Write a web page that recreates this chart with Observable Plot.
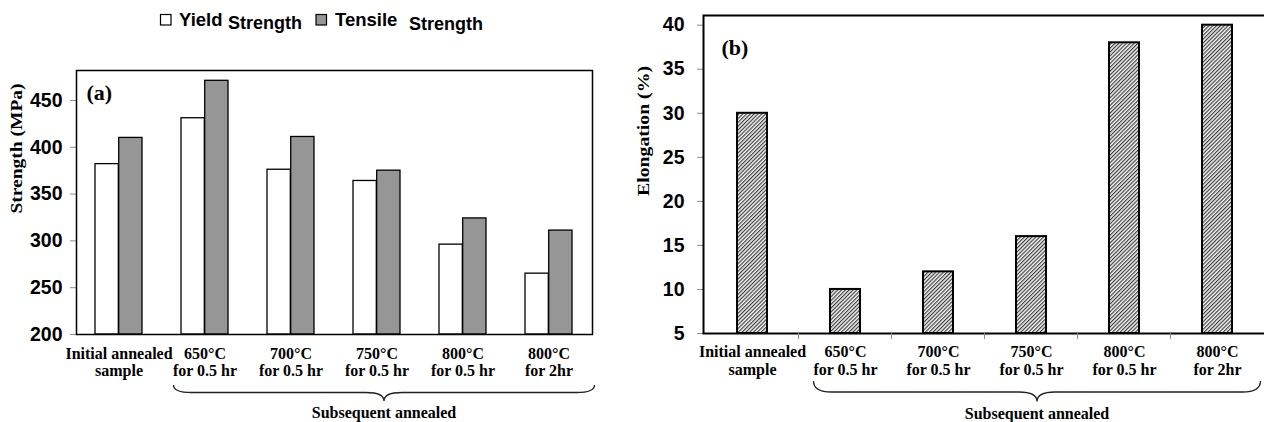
<!DOCTYPE html>
<html><head><meta charset="utf-8">
<script src="https://cdn.jsdelivr.net/npm/d3@7"></script>
<script src="https://cdn.jsdelivr.net/npm/@observablehq/plot@0.6"></script>
<style>
body{margin:0;background:#fff;}
#wrap{position:relative;width:1264px;height:422px;overflow:hidden;background:#fff;}
#wrap svg{position:absolute;top:0;}
</style></head><body><div id="wrap"></div>
<script>
const categories = ["Initial annealed\nsample","650°C\nfor 0.5 hr","700°C\nfor 0.5 hr","750°C\nfor 0.5 hr","800°C\nfor 0.5 hr","800°C\nfor 2hr"];
const yieldStrength = [382, 431, 376, 364, 296, 265];
const tensileStrength = [410, 471, 411, 375, 324, 311];
const elongation = [30, 10, 12, 16, 38, 40];
const strengthTicks = [200, 250, 300, 350, 400, 450];
const elongationTicks = [5, 10, 15, 20, 25, 30, 35, 40];
const strengthDomain = [200, 482];
const elongationDomain = [5, 41.1];
const legendNames = ["Yield", "Tensile"];
const legendSuffix = "Strength";
const braceLabel = "Subsequent annealed";
const panelLabels = ["(a)", "(b)"];
const axisTitles = ["Strength (MPa)", "Elongation (%)"];

const serif = "'Liberation Serif','Times New Roman',serif";
const sans = "'Liberation Sans',Arial,sans-serif";
const wrap = document.getElementById("wrap");

// ---------- Panel (a) ----------
const A = {width: 600, height: 422, ml: 76, mr: 8, mt: 70, mb: 88, pad: 0.449};
const stepA = (A.width - A.ml - A.mr) / categories.length;
const bwA = stepA * (1 - A.pad);
const rowsA = categories.map((c, i) => ({cat: c, ys: yieldStrength[i], ts: tensileStrength[i]}));
const plotA = Plot.plot({
  width: A.width, height: A.height,
  marginLeft: A.ml, marginRight: A.mr, marginTop: A.mt, marginBottom: A.mb,
  x: {domain: categories, paddingInner: A.pad, paddingOuter: A.pad / 2},
  y: {domain: strengthDomain},
  marks: [
    Plot.barY(rowsA, {x: "cat", y1: () => strengthDomain[0], y2: "ys", insetRight: bwA / 2, fill: "white", stroke: "black", strokeWidth: 1.3}),
    Plot.barY(rowsA, {x: "cat", y1: () => strengthDomain[0], y2: "ts", insetLeft: bwA / 2, fill: "#969696", stroke: "black", strokeWidth: 1.3}),
    Plot.axisY({ticks: strengthTicks, tickSize: 6, tickPadding: 8, fontSize: 19.5, fontWeight: "bold", fontFamily: sans, label: null, color: "black"}),
    Plot.axisX({tickSize: 0, tickPadding: 12, fontSize: 16, fontWeight: "bold", fontFamily: serif, lineHeight: 1.08, label: null, color: "black"}),
    Plot.frame({stroke: "black", strokeWidth: 1.5}),
    Plot.text([panelLabels[0]], {frameAnchor: "top-left", dx: 10, dy: 14, fontSize: 22, fontWeight: "bold", fontFamily: serif, fill: "black"}),
    Plot.text([axisTitles[0]], {frameAnchor: "left", rotate: -90, dx: -59.5, dy: 11, fontSize: 16, fontWeight: "bold", fontFamily: serif, fill: "black"})
  ]
});
plotA.style.left = "0px";
wrap.appendChild(plotA);

// ---------- Panel (b) ----------
const B = {width: 664, height: 422, ml: 103, mr: -2, mt: 15, mb: 89, pad: 0.68};
const rowsB = categories.map((c, i) => ({cat: c, e: elongation[i]}));
const plotB = Plot.plot({
  width: B.width, height: B.height,
  marginLeft: B.ml, marginRight: B.mr, marginTop: B.mt, marginBottom: B.mb,
  x: {domain: categories, paddingInner: B.pad, paddingOuter: B.pad / 2},
  y: {domain: elongationDomain},
  marks: [
    Plot.barY(rowsB, {x: "cat", y1: () => elongationDomain[0], y2: "e", fill: "url(#hatchB)", stroke: "black", strokeWidth: 2}),
    Plot.axisY({ticks: elongationTicks, tickSize: 6, tickPadding: 13, fontSize: 19.5, fontWeight: "bold", fontFamily: sans, label: null, color: "black"}),
    Plot.axisX({tickSize: 0, tickPadding: 11, fontSize: 16, fontWeight: "bold", fontFamily: serif, lineHeight: 1.1, label: null, color: "black"}),
    Plot.frame({stroke: "black", strokeWidth: 2}),
    Plot.text([panelLabels[1]], {frameAnchor: "top-left", dx: 18, dy: 24, fontSize: 22, fontWeight: "bold", fontFamily: serif, fill: "black"}),
    Plot.text([axisTitles[1]], {frameAnchor: "left", rotate: -90, dx: -59.5, dy: 21.5, fontSize: 16, fontWeight: "bold", fontFamily: serif, fill: "black"})
  ]
});
plotB.style.left = "600px";
wrap.appendChild(plotB);

// hatch pattern
const svgB = d3.select(plotB);
const pat = svgB.insert("defs", ":first-child").append("pattern")
  .attr("id", "hatchB").attr("patternUnits", "userSpaceOnUse")
  .attr("width", 2.7).attr("height", 2.7).attr("patternTransform", "rotate(45)");
pat.append("rect").attr("width", 2.7).attr("height", 2.7).attr("fill", "#f2f2f2");
pat.append("line").attr("x1", 0.6).attr("y1", 0).attr("x2", 0.6).attr("y2", 2.7)
  .attr("stroke", "#2b2b2b").attr("stroke-width", 1.05);

// styling tweaks
for (const p of [plotA, plotB]) {
  const s = d3.select(p);
  s.selectAll('g[aria-label="y-axis tick"]').attr("stroke", "#8a8a8a");
  s.selectAll("text").each(function() {
    if (axisTitles.includes(this.textContent)) {
      d3.select(this).attr("textLength", 130).attr("lengthAdjust", "spacingAndGlyphs");
    }
  });
}

// brace helper
function brace(plot, x0, x1, yTop, yMid, yTip) {
  const xm = (x0 + x1) / 2, r = 18;
  const path = `M${x0},${yTop} Q${x0},${yMid} ${x0 + r},${yMid} L${xm - r},${yMid} Q${xm},${yMid} ${xm},${yTip} Q${xm},${yMid} ${xm + r},${yMid} L${x1 - r},${yMid} Q${x1},${yMid} ${x1},${yTop}`;
  const s = d3.select(plot);
  s.append("path").attr("d", path).attr("fill", "none").attr("stroke", "#222").attr("stroke-width", 1.3);
  s.append("text").attr("x", xm).attr("y", yTip + 17).attr("text-anchor", "middle")
    .attr("font-family", serif).attr("font-weight", "bold").attr("font-size", 16).attr("fill", "black")
    .text(braceLabel);
}
function boundary(plot, i) {
  const sx = plot.scale("x");
  const gap = sx.step - sx.bandwidth;
  return i < categories.length ? sx.apply(categories[i]) - gap / 2 : sx.apply(categories[i - 1]) + sx.bandwidth + gap / 2;
}
brace(plotA, boundary(plotA, 1) + 12, boundary(plotA, 6) + 3, 385, 392.5, 401);
brace(plotB, boundary(plotB, 1) + 15, boundary(plotB, 6) - 3, 381, 392, 401.5);

// boundary ticks on panel (b) x-axis
{
  const sy = plotB.scale("y");
  const yb = sy.apply(elongationDomain[0]);
  const s = d3.select(plotB);
  for (let i = 1; i < categories.length; i++) {
    const bx = boundary(plotB, i);
    s.append("line").attr("x1", bx).attr("x2", bx).attr("y1", yb).attr("y2", yb + 6)
      .attr("stroke", "#8a8a8a").attr("stroke-width", 1);
  }
}

// legend (top of panel a)
{
  const s = d3.select(plotA).append("g").attr("text-anchor", "start");
  const items = [
    {box: 160.5, fill: "white", name: legendNames[0], nx: 179, sx: 228, sBase: 28.5},
    {box: 316, fill: "#969696", name: legendNames[1], nx: 335, sx: 409, sBase: 30}
  ];
  for (const it of items) {
    s.append("rect").attr("x", it.box).attr("y", 14.5).attr("width", 10.5).attr("height", 10.5)
      .attr("fill", it.fill).attr("stroke", "black").attr("stroke-width", 1.2);
    s.append("text").attr("x", it.nx).attr("y", 26).attr("text-anchor", "start").attr("font-family", sans).attr("font-weight", "bold")
      .attr("font-size", 18.5).attr("fill", "black").text(it.name);
    s.append("text").attr("x", it.sx).attr("y", it.sBase).attr("text-anchor", "start").attr("font-family", sans).attr("font-weight", "bold")
      .attr("font-size", 18).attr("fill", "black").text(legendSuffix);
  }
}
</script></body></html>
